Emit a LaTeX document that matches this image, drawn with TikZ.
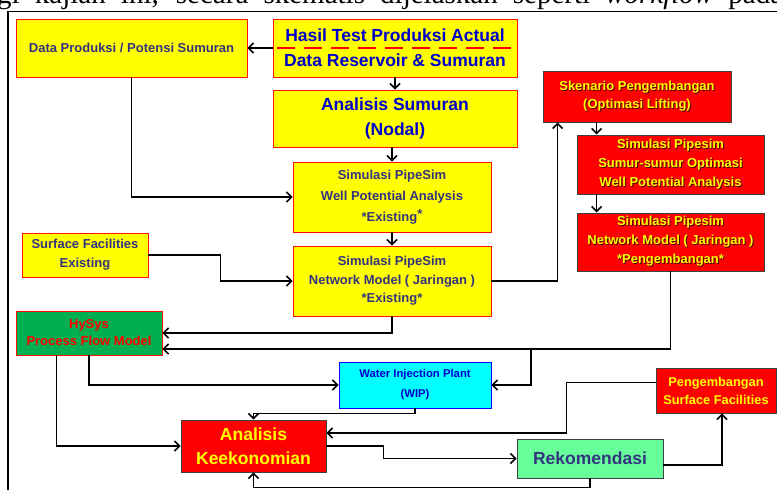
\documentclass[tikz,border=0pt]{standalone}
\usepackage{fontspec}
\setmainfont{Liberation Sans}
\newfontfamily\bodyserif{Liberation Serif}
\usetikzlibrary{arrows.meta}
\definecolor{boxyellow}{RGB}{255,255,0}
\definecolor{boxred}{RGB}{255,0,0}
\definecolor{boxgreen}{RGB}{0,176,80}
\definecolor{boxcyan}{RGB}{0,255,255}
\definecolor{boxmint}{RGB}{102,255,153}
\definecolor{navytext}{RGB}{51,51,128}
\definecolor{bluetext}{RGB}{0,0,204}
\definecolor{shadowred}{RGB}{80,0,0}
\newcommand{\shtext}[1]{\makebox[0pt][l]{\kern1pt\raisebox{-1pt}{\textcolor{shadowred}{#1}}}#1}
\begin{document}
\begin{tikzpicture}[x=1pt,y=-1pt,
  ybox/.style={draw=red!85!orange,line width=0.8pt,fill=boxyellow,text=navytext,align=center,inner sep=0pt,font=\bfseries\fontsize{13}{19}\selectfont},
  rbox/.style={draw=black!75,line width=0.8pt,fill=boxred,text=boxyellow,align=center,inner sep=0pt,font=\bfseries\fontsize{13}{19}\selectfont},
  flow/.style={line width=1.6pt,-{Straight Barb[length=5pt,width=10pt]}}]
\useasboundingbox (0,0) rectangle (777,490);
\node[anchor=base west,inner sep=0pt,font=\bodyserif\fontsize{29}{29}\selectfont] (topline) at (-3,3) {\makebox[786pt][s]{gi kajian ini, secara skematis dijelaskan seperti \textit{workflow} pada}};
\draw[line width=1.2pt] (8,490) -- (8,11.5) -- (777,11.5);
\node[ybox,minimum width=231pt,minimum height=58pt] (dprod) at (131.5,48) {Data Produksi / Potensi Sumuran};
\node[ybox,minimum width=244pt,minimum height=58pt,text=bluetext,font=\bfseries\fontsize{17.5}{25}\selectfont] (hasil) at (395,48) {Hasil Test Produksi Actual\\Data Reservoir \& Sumuran};
\draw[red,line width=2pt,dash pattern=on 18pt off 9pt] (277,48) -- (512,48);
\node[ybox,minimum width=244pt,minimum height=57pt,text=bluetext,font=\bfseries\fontsize{17.5}{25}\selectfont] (nodal) at (395,118.5) {Analisis Sumuran\\(Nodal)};
\node[ybox,minimum width=198pt,minimum height=70pt,font=\bfseries\fontsize{13}{21}\selectfont] (wellpot) at (392,197) {Simulasi PipeSim\\Well Potential Analysis\\*Existing\raisebox{3pt}{*}};
\node[ybox,minimum width=198pt,minimum height=70pt,font=\bfseries\fontsize{13}{18.5}\selectfont] (netex) at (392,281) {Simulasi PipeSim\\Network Model ( Jaringan )\\*Existing*};
\node[ybox,minimum width=126pt,minimum height=44pt] (sfex) at (85,255) {Surface Facilities\\Existing};
\node[draw=red!85!orange,line width=0.8pt,fill=boxgreen,text=red,align=center,inner sep=0pt,minimum width=146pt,minimum height=44pt,font=\bfseries\fontsize{13}{17}\selectfont] (hysys) at (89,333) {HySys\\Process Flow Model};
\node[rbox,minimum width=188pt,minimum height=51pt,font=\bfseries\fontsize{13}{18}\selectfont] (skenario) at (637,96.5) {\shtext{Skenario Pengembangan}\\\shtext{(Optimasi Lifting)}};
\node[rbox,minimum width=187pt,minimum height=59pt] (sumur) at (670.5,164.5) {\shtext{Simulasi Pipesim}\\\shtext{Sumur-sumur Optimasi}\\\shtext{Well Potential Analysis}};
\node[rbox,minimum width=187pt,minimum height=58pt] (netpg) at (670.5,242) {\shtext{Simulasi Pipesim}\\\shtext{Network Model ( Jaringan )}\\\shtext{*Pengembangan*}};
\node[draw=blue,line width=0.8pt,fill=boxcyan,text=blue!80!black,align=center,inner sep=0pt,minimum width=152pt,minimum height=46pt,font=\bfseries\fontsize{11.3}{20}\selectfont] (wip) at (415,385) {Water Injection Plant\\(WIP)};
\node[rbox,minimum width=145pt,minimum height=52pt,font=\bfseries\fontsize{17.5}{24}\selectfont] (ekon) at (253.5,446) {Analisis\\Keekonomian};
\node[rbox,minimum width=120pt,minimum height=45pt,font=\bfseries\fontsize{12.8}{18}\selectfont] (sfpg) at (716,390.5) {Pengembangan\\Surface Facilities};
\node[draw=black!75,line width=0.8pt,fill=boxmint,text=navytext,inner sep=0pt,minimum width=146pt,minimum height=39pt,font=\bfseries\fontsize{17.5}{20}\selectfont] (rekom) at (590,458.5) {Rekomendasi};
\draw[flow] (hasil.west) -- (dprod.east);
\draw[flow] (hasil.south) -- (nodal.north);
\draw[flow] (wellpot.north |- nodal.south) -- (wellpot.north);
\draw[flow] (dprod.south) |- (wellpot.west);
\draw[flow] (wellpot.south) -- (netex.north);
\draw[flow] (sfex.east) -- ++(72,0) |- (netex.west);
\draw[flow] (netex.south) |- (hysys.east);
\draw[flow] (netpg.south) |- ([yshift=-16pt]hysys.east);
\coordinate (split) at (531,349);
\draw[flow] (split) |- (wip.east);
\draw[flow] (netex.east) -| ([xshift=15pt]skenario.south west);
\draw[flow] ([xshift=20pt]sumur.north west |- skenario.south) -- ([xshift=20pt]sumur.north west);
\draw[flow] ([xshift=20pt]sumur.south west) -- ([xshift=20pt]netpg.north west);
\draw[flow] (hysys.south) |- (wip.west);
\draw[flow] ([xshift=41pt]hysys.south west) |- (ekon.west);
\draw[flow] (wip.south) -- ++(0,5) -| (ekon.north);
\draw[flow] ([yshift=8pt]sfpg.west) -- ++(-89,0) |- ([yshift=13pt]ekon.east);
\draw[flow] (ekon.east) -- ++(57,0) |- (rekom.west);
\draw[flow] ([yshift=-6.5pt]rekom.east) -| ([xshift=6pt]sfpg.south);
\draw[flow] (rekom.south) -- ++(0,9) -| (ekon.south);
\end{tikzpicture}
\end{document}
